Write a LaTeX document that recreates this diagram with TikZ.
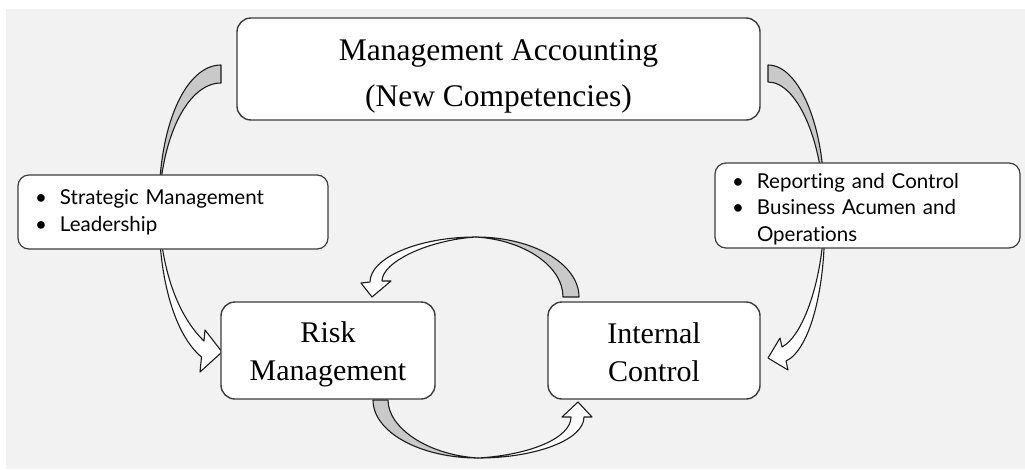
\documentclass[tikz,border=0pt]{standalone}
\usepackage{fontspec}
\setmainfont{Liberation Serif}
\newfontfamily\listfont[Ligatures=NoCommon]{Lato}

\definecolor{panel}{HTML}{F2F2F2}
\definecolor{backside}{HTML}{C9C9C9}
\definecolor{rim}{HTML}{3C3C3C}
\definecolor{outline}{HTML}{1C1C1C}

\begin{document}
\begin{tikzpicture}[x=1pt, y=-1pt,
    box/.style={draw=rim, line width=1.4pt, fill=white, rounded corners=14pt,
      align=center, inner sep=0pt},
    listbox/.style={draw=rim, line width=1.2pt, fill=white, rounded corners=11pt,
      align=left, inner xsep=17pt, inner ysep=0pt,
      font=\listfont\fontsize{20.5}{26.5}\selectfont},
    backface/.style={fill=backside, draw=outline, line width=1.1pt, line join=round},
    frontface/.style={fill=white, draw=outline, line width=1.1pt, line join=round}]
      \useasboundingbox (0,0) rectangle (1025,469);
      \fill[panel] (6,9) rectangle (1025,469);

      % curved arrow: top box down to the left
      \filldraw[backface] (221,65) .. controls (186,65) and (157,125) .. (159,215)
        .. controls (159,140) and (187,83) .. (221,83) -- cycle;
      \filldraw[frontface] (159,215) .. controls (162,275) and (180,318) .. (204,341)
        -- (205,330) -- (222,352) -- (200,372) -- (201.5,357)
        .. controls (175,335) and (159,280) .. (159,215) -- cycle;

      % curved arrow: top box down to the right
      \filldraw[backface] (768,65) .. controls (800,65) and (826,130) .. (824,205)
        .. controls (822,140) and (797,82) .. (768,82) -- cycle;
      \filldraw[frontface] (824,205) .. controls (826,270) and (805,335) .. (782,347)
        -- (780,338) -- (768,358) -- (788,370) -- (786,361)
        .. controls (810,350) and (828,285) .. (824,205) -- cycle;

      % loop between the two lower boxes, upper half
      \filldraw[backface] (579,297) .. controls (579,264) and (533,237) .. (476,237)
        .. controls (524,240) and (563,266) .. (563,297) -- cycle;
      \filldraw[frontface] (476,237) .. controls (418,237) and (370,258) .. (370,282)
        -- (361,283) -- (372,297) -- (391,281) -- (382,281)
        .. controls (382,262) and (428,240) .. (476,237) -- cycle;

      % loop between the two lower boxes, lower half
      \filldraw[backface] (373,400) .. controls (373,432) and (420,458) .. (478,458)
        .. controls (428,455) and (388,428) .. (388,400) -- cycle;
      \filldraw[frontface] (478,458) .. controls (535,458) and (584,440) .. (584,417)
        -- (592,417) -- (578,402) -- (562,417) -- (571,417)
        .. controls (571,438) and (530,455) .. (478,458) -- cycle;

      \node[box, minimum width=523pt, minimum height=102pt,
        font=\fontsize{31.5}{46}\selectfont] (mgmt) at (498.5,69)
        {\rule{0pt}{36pt}Management Accounting\\(New Competencies)\rule[-8pt]{0pt}{8pt}};

      \node[listbox, text width=276pt, minimum height=74pt] (strat) at (173,212)
        {\rule{0pt}{16pt}\makebox[25pt][l]{\textbullet}Strategic Management\\
         \makebox[25pt][l]{\textbullet}Leadership\rule[-3pt]{0pt}{3pt}};
      \node[listbox, text width=271pt, minimum height=85pt] (report) at (867.5,205.5)
        {\rule{0pt}{22pt}\makebox[25pt][l]{\textbullet}Reporting and Control\\
         \makebox[25pt][l]{\textbullet}Business Acumen and\\
         \hspace*{25pt}Operations\rule[-1pt]{0pt}{1pt}};

      \node[box, minimum width=214pt, minimum height=97pt,
        font=\fontsize{30}{38}\selectfont] (risk) at (328,350.5)
        {\rule{0pt}{28pt}Risk\\Management\rule[-5pt]{0pt}{5pt}};
      \node[box, minimum width=212pt, minimum height=97pt,
        font=\fontsize{30}{38}\selectfont] (ctrl) at (654,350.5)
        {\rule{0pt}{28pt}Internal\\Control\rule[-5pt]{0pt}{5pt}};
\end{tikzpicture}
\end{document}
